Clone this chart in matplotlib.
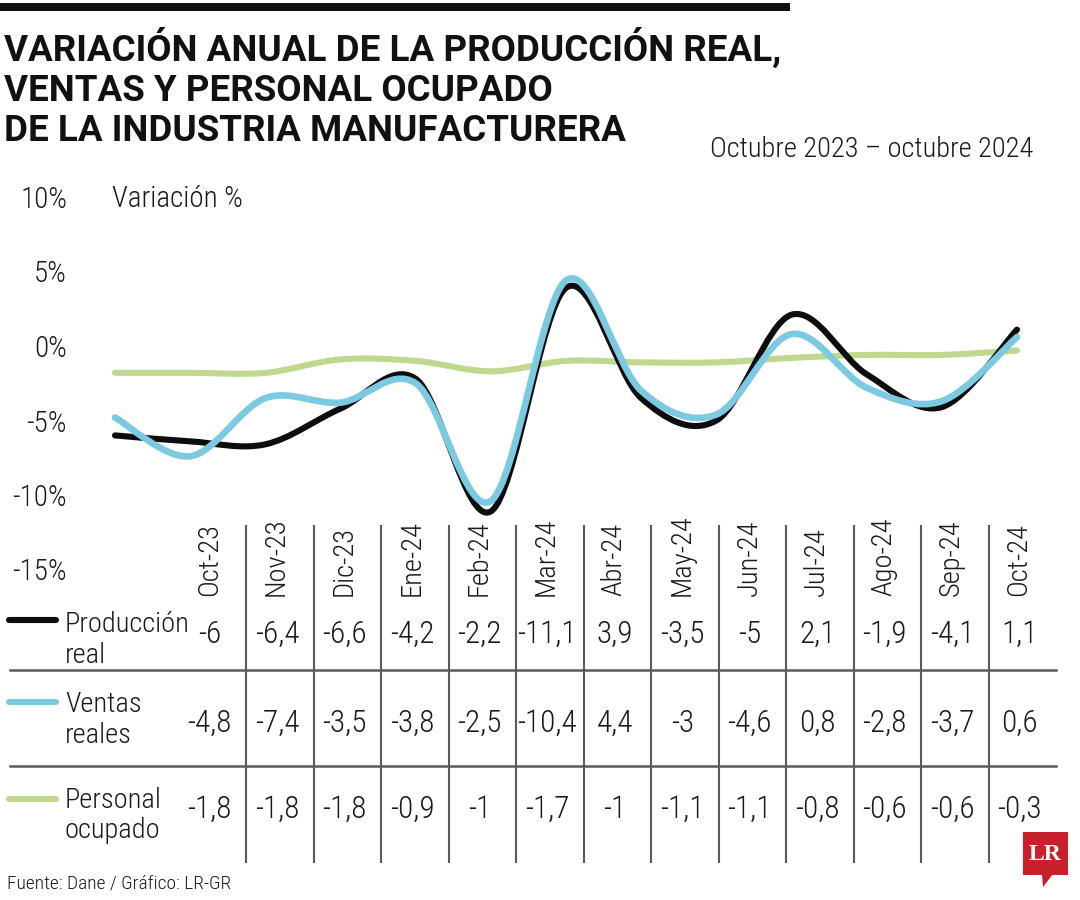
import numpy as np
import matplotlib
matplotlib.use("Agg")
import matplotlib.pyplot as plt
from matplotlib import font_manager
from matplotlib.path import Path
from matplotlib.patches import PathPatch, Rectangle, Polygon
from matplotlib.lines import Line2D

# ---------------- data ----------------
months = ["Oct-23", "Nov-23", "Dic-23", "Ene-24", "Feb-24", "Mar-24", "Abr-24",
          "May-24", "Jun-24", "Jul-24", "Ago-24", "Sep-24", "Oct-24"]
produccion_real = [-6, -6.4, -6.6, -4.2, -2.2, -11.1, 3.9, -3.5, -5, 2.1, -1.9, -4.1, 1.1]
ventas_reales = [-4.8, -7.4, -3.5, -3.8, -2.5, -10.4, 4.4, -3, -4.6, 0.8, -2.8, -3.7, 0.6]
personal_ocupado = [-1.8, -1.8, -1.8, -0.9, -1, -1.7, -1, -1.1, -1.1, -0.8, -0.6, -0.6, -0.3]
series_names = [["Producción", "real"], ["Ventas", "reales"], ["Personal", "ocupado"]]
y_ticks = [10, 5, 0, -5, -10, -15]
y_tick_labels = ["10%", "5%", "0%", "-5%", "-10%", "-15%"]

title_lines = ["VARIACIÓN ANUAL DE LA PRODUCCIÓN REAL,",
               "VENTAS Y PERSONAL OCUPADO",
               "DE LA INDUSTRIA MANUFACTURERA"]
subtitle = "Octubre 2023 – octubre 2024"
source = "Fuente: Dane / Gráfico: LR-GR"

# ---------------- fonts ----------------
available = {f.name for f in font_manager.fontManager.ttflist}
condensed_choices = ["Roboto Condensed", "Liberation Sans Narrow", "Arial Narrow",
                     "Open Sans Condensed"]
NARROW_NAME = None
for name in condensed_choices:
    if name in available:
        NARROW_NAME = name
        break
if NARROW_NAME is None:
    NARROW_NAME = "Roboto" if "Roboto" in available else "DejaVu Sans"
    SZ = 0.86
else:
    SZ = 1.0
NARROW = [NARROW_NAME, "DejaVu Sans"]
BOLD = ["Roboto", "Liberation Sans", "DejaVu Sans"]
plt.rcParams["font.family"] = NARROW
plt.rcParams["font.weight"] = "light"

# ---------------- style ----------------
BLACK = "#0d0d0d"
BLUE = "#7ccae2"
GREEN = "#bfd88e"
LOGO_RED = "#c8202a"
TXT = "#1a1a1a"

W, H = 1080, 900
fig = plt.figure(figsize=(W / 100, H / 100), dpi=100)
fig.patch.set_facecolor("white")


def fx(x):
    return x / W


def fy(y):
    return 1 - y / H


# top rule
fig.add_artist(Rectangle((0, fy(11)), fx(790), 8 / H, transform=fig.transFigure,
                         color="#111111", lw=0))

# title
for i, line in enumerate(title_lines):
    fig.text(fx(4), fy(61 + 40 * i), line, fontsize=26.5, fontweight="bold",
             family=BOLD, va="baseline", ha="left", color="#111111")

fig.text(fx(1033), fy(157), subtitle, fontsize=20.5 * SZ, ha="right", va="baseline",
         color=TXT)

# ---------------- main chart ----------------
px_left, px_right = 115, 1017
px_top, px_bot = 197, 569.5
ax = fig.add_axes([fx(px_left), fy(px_bot), (px_right - px_left) / W, (px_bot - px_top) / H])
ax.set_xlim(0, len(months) - 1)
ax.set_ylim(-15, 10)
for s in ax.spines.values():
    s.set_visible(False)
ax.set_xticks([])
ax.set_yticks(y_ticks)
ax.set_yticklabels(y_tick_labels)
ax.tick_params(axis="y", length=0, pad=34.5, labelsize=21 * SZ, labelcolor=TXT)
ax.patch.set_alpha(0)

fig.text(fx(112), fy(207), "Variación %", fontsize=21 * SZ, ha="left", va="baseline",
         color=TXT)


def smooth_path(xs, ys):
    pts = np.column_stack([xs, ys]).astype(float)
    n = len(pts)
    verts = [pts[0]]
    codes = [Path.MOVETO]
    for i in range(n - 1):
        p0 = pts[i - 1] if i > 0 else pts[i]
        p1 = pts[i]
        p2 = pts[i + 1]
        p3 = pts[i + 2] if i + 2 < n else pts[i + 1]
        c1 = p1 + (p2 - p0) / 6.0
        c2 = p2 - (p3 - p1) / 6.0
        verts += [c1, c2, p2]
        codes += [Path.CURVE4] * 3
    return Path(verts, codes)


x_idx = np.arange(len(months))
for vals, col, lw, z in [(personal_ocupado, GREEN, 4.4, 2),
                         (produccion_real, BLACK, 4.4, 3),
                         (ventas_reales, BLUE, 4.8, 4)]:
    patch = PathPatch(smooth_path(x_idx, vals), facecolor="none", edgecolor=col,
                      lw=lw, capstyle="round", joinstyle="round", zorder=z,
                      transform=ax.transData, clip_on=False)
    ax.add_patch(patch)

# ---------------- table ----------------
col_left_px, col_right_px = 178.75, 1056.25
tab = fig.add_axes([fx(col_left_px), 0, (col_right_px - col_left_px) / W, 1])
tab.set_xlim(-0.5, len(months) - 0.5)
tab.set_ylim(H, 0)
tab.axis("off")

for i, m in enumerate(months):
    tab.text(i - 0.05, 596, m, rotation=90, ha="center", va="bottom",
             fontsize=20.5 * SZ, color=TXT)

row_baselines = [643, 732, 818]
all_rows = [produccion_real, ventas_reales, personal_ocupado]


def fmt(v):
    return f"{v:g}".replace(".", ",")


for r, vals in enumerate(all_rows):
    for i, v in enumerate(vals):
        tab.text(i - 0.04, row_baselines[r], fmt(v), ha="center", va="baseline",
                 fontsize=22.5 * SZ, color=TXT)

tab.vlines(np.arange(len(months) - 1) + 0.5, 525, 863, color="#5a5a5a", lw=1.5)

for yy in [670, 766]:
    fig.add_artist(Line2D([fx(10), fx(1056)], [fy(yy), fy(yy)], color="#5a5a5a",
                          lw=1.8, transform=fig.transFigure))

# legend swatches and row labels
swatch_y = [620, 702, 799]
label_base = [(632, 663), (712, 743), (808, 838)]
for r, col in enumerate([BLACK, BLUE, GREEN]):
    fig.add_artist(Line2D([fx(9), fx(56)], [fy(swatch_y[r])] * 2, color=col, lw=4.4,
                          solid_capstyle="round", transform=fig.transFigure))
    for k in range(2):
        fig.text(fx(65), fy(label_base[r][k]), series_names[r][k], fontsize=20.5 * SZ,
                 ha="left", va="baseline", color=TXT)

# source
fig.text(fx(7), fy(888), source, fontsize=14 * SZ, ha="left", va="baseline", color=TXT)

# logo
fig.add_artist(Rectangle((fx(1023), fy(875)), 45 / W, 43 / H, transform=fig.transFigure,
                         color=LOGO_RED, lw=0))
fig.add_artist(Polygon([[fx(1042), fy(874)], [fx(1053), fy(874)], [fx(1043), fy(887)]],
                       closed=True, transform=fig.transFigure, color=LOGO_RED, lw=0))
fig.text(fx(1045.5), fy(854), "LR", fontsize=17, fontweight="bold",
         family=["Liberation Serif", "DejaVu Serif"], color="white",
         ha="center", va="center")

fig.savefig("out.png", dpi=100, facecolor="white")
